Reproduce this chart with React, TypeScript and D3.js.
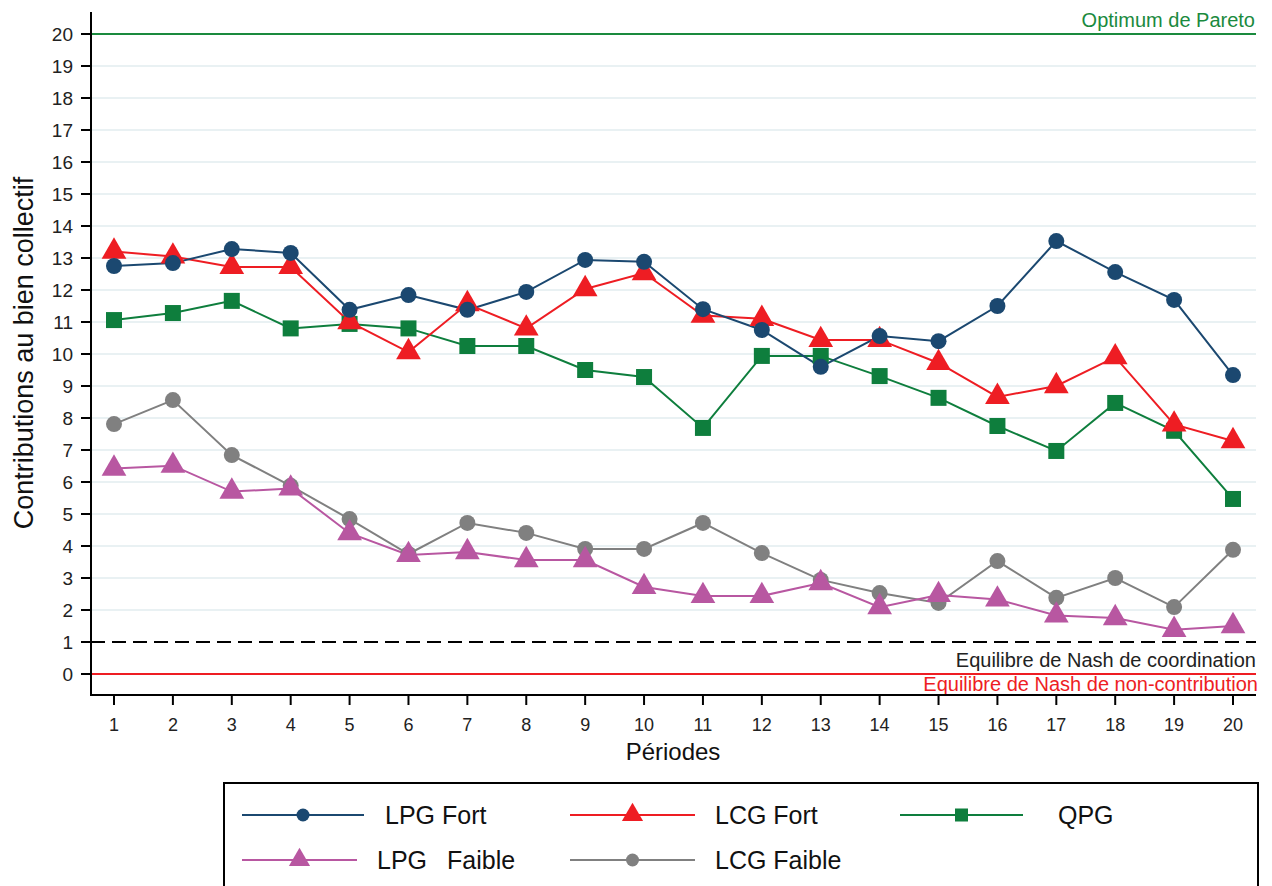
import React, { useEffect, useRef } from 'react';
import * as d3 from 'd3';

// périodes 1..20
const periods = d3.range(1, 21);
const yTicks = d3.range(0, 21);

const lpgFort = [12.75, 12.84, 13.28, 13.16, 11.38, 11.84, 11.38, 11.94, 12.94, 12.88, 11.4, 10.75, 9.6, 10.56, 10.4, 11.5, 13.53, 12.56, 11.69, 9.34];
const lcgFort = [13.2, 13.05, 12.72, 12.72, 11.0, 10.06, 11.56, 10.8, 12.03, 12.53, 11.2, 11.1, 10.44, 10.44, 9.72, 8.66, 9.0, 9.9, 7.8, 7.28];
const qpg = [11.06, 11.28, 11.66, 10.8, 10.94, 10.8, 10.25, 10.25, 9.5, 9.28, 7.69, 9.94, 9.94, 9.31, 8.63, 7.75, 6.97, 8.47, 7.6, 5.47];
const lpgFaible = [6.42, 6.51, 5.7, 5.8, 4.4, 3.72, 3.81, 3.56, 3.56, 2.72, 2.44, 2.44, 2.84, 2.09, 2.47, 2.33, 1.83, 1.75, 1.38, 1.5];
const lcgFaible = [7.81, 8.56, 6.84, 5.88, 4.84, 3.75, 4.72, 4.41, 3.91, 3.91, 4.72, 3.78, 2.94, 2.53, 2.22, 3.53, 2.38, 3.0, 2.09, 3.88];

const series = [
  { name: 'LPG Fort', values: lpgFort, color: '#1b4870', shape: 'circle' },
  { name: 'LCG Fort', values: lcgFort, color: '#ee1d23', shape: 'triangle' },
  { name: 'QPG', values: qpg, color: '#0e7e3d', shape: 'square' },
  { name: 'LPG Faible', values: lpgFaible, color: '#b857a1', shape: 'triangle' },
  { name: 'LCG Faible', values: lcgFaible, color: '#808080', shape: 'circle' },
];

const FONT = 'Arial, "Liberation Sans", sans-serif';

export default function App() {
  const ref = useRef<SVGSVGElement>(null);

  useEffect(() => {
    document.body.style.margin = '0';
    const svg = d3.select(ref.current);
    svg.selectAll('*').remove();

    const left = 91, right = 1256, top = 12, bottom = 695;
    const x = d3.scaleLinear().domain([1, 20]).range([114, 1233]);
    const y = d3.scaleLinear().domain([0, 20]).range([674, 34]);

    const g = svg.append('g');

    // grille
    g.selectAll('.grid').data(yTicks.filter(t => t > 1 && t < 20)).join('line')
      .attr('x1', left + 1).attr('x2', right)
      .attr('y1', d => y(d)).attr('y2', d => y(d))
      .attr('stroke', '#e9f1f3').attr('stroke-width', 2);

    // lignes de référence
    g.append('line').attr('x1', left).attr('x2', right).attr('y1', y(20)).attr('y2', y(20))
      .attr('stroke', '#1a8a3e').attr('stroke-width', 2);
    g.append('line').attr('x1', left).attr('x2', right).attr('y1', y(0)).attr('y2', y(0))
      .attr('stroke', '#ee1d23').attr('stroke-width', 2);
    g.append('line').attr('x1', left).attr('x2', right).attr('y1', y(1)).attr('y2', y(1))
      .attr('stroke', '#000').attr('stroke-width', 2).attr('stroke-dasharray', '14,7');

    g.append('text').attr('x', 1255).attr('y', 27).attr('text-anchor', 'end')
      .attr('font-family', FONT).attr('font-size', 20).attr('fill', '#1a8a3e').text('Optimum de Pareto');
    g.append('text').attr('x', 1256).attr('y', 667).attr('text-anchor', 'end')
      .attr('font-family', FONT).attr('font-size', 20).attr('fill', '#222').text('Equilibre de Nash de coordination');
    g.append('text').attr('x', 1258).attr('y', 691).attr('text-anchor', 'end')
      .attr('font-family', FONT).attr('font-size', 20).attr('fill', '#ee1d23').text('Equilibre de Nash de non-contribution');

    // axes
    g.append('line').attr('x1', left).attr('x2', left).attr('y1', top).attr('y2', bottom + 1)
      .attr('stroke', '#000').attr('stroke-width', 2);
    g.append('line').attr('x1', left - 1).attr('x2', right).attr('y1', bottom).attr('y2', bottom)
      .attr('stroke', '#000').attr('stroke-width', 2);

    g.selectAll('.yt').data(yTicks).join('line')
      .attr('x1', left - 10).attr('x2', left).attr('y1', d => y(d)).attr('y2', d => y(d))
      .attr('stroke', '#000').attr('stroke-width', 2);
    g.selectAll('.yl').data(yTicks).join('text')
      .attr('x', 73).attr('y', d => y(d)).attr('dy', '0.36em').attr('text-anchor', 'end')
      .attr('font-family', FONT).attr('font-size', 19).attr('fill', '#222').text(d => d);

    g.selectAll('.xt').data(periods).join('line')
      .attr('x1', d => x(d)).attr('x2', d => x(d)).attr('y1', bottom).attr('y2', bottom + 10)
      .attr('stroke', '#000').attr('stroke-width', 2);
    g.selectAll('.xl').data(periods).join('text')
      .attr('x', d => x(d)).attr('y', 731).attr('text-anchor', 'middle')
      .attr('font-family', FONT).attr('font-size', 18).attr('fill', '#222').text(d => d);

    g.append('text').attr('x', 673).attr('y', 760).attr('text-anchor', 'middle')
      .attr('font-family', FONT).attr('font-size', 24).attr('fill', '#111').text('Périodes');
    g.append('text').attr('transform', `translate(33, 353) rotate(-90)`).attr('text-anchor', 'middle')
      .attr('font-family', FONT).attr('font-size', 27).attr('fill', '#111').text('Contributions au bien collectif');

    const marker = (sel: any, shape: string, color: string, s: number) => {
      if (shape === 'circle') {
        sel.append('circle').attr('r', s * 0.5).attr('fill', color);
      } else if (shape === 'square') {
        sel.append('rect').attr('x', -s * 0.5).attr('y', -s * 0.5).attr('width', s).attr('height', s).attr('fill', color);
      } else {
        const sym = d3.symbol().type(d3.symbolTriangle).size(s * s * 0.6);
        sel.append('path').attr('d', sym()).attr('fill', color);
      }
    };

    const line = d3.line<number>().x((_, i) => x(periods[i])).y(d => y(d));
    const drawOrder = [4, 3, 2, 1, 0];
    drawOrder.forEach(k => {
      const s = series[k];
      g.append('path').attr('d', line(s.values)).attr('fill', 'none')
        .attr('stroke', s.color).attr('stroke-width', 2);
    });
    drawOrder.forEach(k => {
      const s = series[k];
      const size = s.shape === 'square' ? 16 : s.shape === 'circle' ? 16 : 21;
      s.values.forEach((v, i) => {
        const mg = g.append('g').attr('transform', `translate(${x(periods[i])},${y(v)})`);
        marker(mg, s.shape, s.color, size);
      });
    });

    // légende
    const lg = svg.append('g');
    lg.append('rect').attr('x', 224).attr('y', 783).attr('width', 1034).attr('height', 120)
      .attr('fill', 'none').attr('stroke', '#000').attr('stroke-width', 2);
    const items = [
      { s: series[0], x0: 242, x1: 364, ty: 815, labels: [{ t: 'LPG Fort', x: 385 }] },
      { s: series[1], x0: 570, x1: 695, ty: 815, labels: [{ t: 'LCG Fort', x: 715 }] },
      { s: series[2], x0: 900, x1: 1023, ty: 815, labels: [{ t: 'QPG', x: 1058 }] },
      { s: series[3], x0: 242, x1: 357, ty: 860, labels: [{ t: 'LPG', x: 377 }, { t: 'Faible', x: 447 }] },
      { s: series[4], x0: 570, x1: 695, ty: 860, labels: [{ t: 'LCG Faible', x: 715 }] },
    ];
    items.forEach(it => {
      lg.append('line').attr('x1', it.x0).attr('x2', it.x1).attr('y1', it.ty).attr('y2', it.ty)
        .attr('stroke', it.s.color).attr('stroke-width', 2);
      const mg = lg.append('g').attr('transform', `translate(${(it.x0 + it.x1) / 2},${it.ty})`);
      marker(mg, it.s.shape, it.s.color, it.s.shape === 'triangle' ? 18 : 13);
      it.labels.forEach(l => {
        lg.append('text').attr('x', l.x).attr('y', it.ty).attr('dy', '0.36em')
          .attr('font-family', FONT).attr('font-size', 25).attr('fill', '#111').text(l.t);
      });
    });
  }, []);

  return <svg ref={ref} width={1272} height={886} style={{ display: 'block', background: '#fff' }} />;
}
